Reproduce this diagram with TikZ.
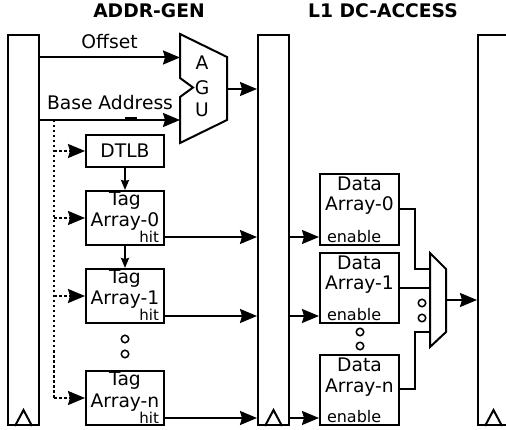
\documentclass[tikz,border=0pt]{standalone}
\usepackage{fontspec}
\setmainfont{DejaVu Sans}
\usetikzlibrary{arrows.meta}
\begin{document}
\begin{tikzpicture}[x=1pt,y=-1pt,line width=2pt,
  pipereg/.style={draw,rectangle,minimum width=31pt,minimum height=390pt,inner sep=0pt},
  unitbox/.style={draw,rectangle,inner sep=0pt,minimum width=78pt},
  databox/.style={draw,rectangle,inner sep=0pt,minimum width=79pt,minimum height=70pt},
  txt/.style={inner sep=0pt,anchor=base,font=\fontsize{18.7}{19}\selectfont},
  small/.style={inner sep=0pt,font=\fontsize{15}{16}\selectfont},
  title/.style={inner sep=0pt,anchor=base,font=\fontsize{18.7}{19}\selectfont\bfseries},
  arr/.style={-{Stealth[length=17pt,width=14pt,inset=2pt]}},
  tiny/.style={-{Stealth[length=10pt,width=8pt,inset=1pt]}},
  tap/.style={dash pattern=on 2.5pt off 2.5pt},
  clk/.style={line join=miter},
  dot/.style={draw,circle,inner sep=0pt,minimum size=7.5pt,line width=1.5pt}]
\useasboundingbox (0,0) rectangle (506,430);

% titles
\node[title] (t1) at (149,17.5) {ADDR-GEN};
\node[title] (t2) at (383,17.5) {L1 DC-ACCESS};

% pipeline registers
\node[pipereg] (r1) at (23.5,230) {};
\node[pipereg] (r2) at (273.5,230) {};
\node[pipereg] (r3) at (493.5,230) {};
\foreach \r in {r1,r2,r3}
  \draw[clk] (\r.south) ++(-8.5,0) -- ++(8.5,-16) -- ++(8.5,16);

% address generation unit
\draw[line join=miter] (180,34) -- (227,57) -- (227,120) -- (180,143) -- (180,97)
  -- (193,87.5) -- (180,78) -- cycle;
\coordinate (aguin1) at (180,57.5);
\coordinate (aguin2) at (180,120);
\coordinate (aguout) at (227,89);
\node[txt] (la) at (202,70) {A};
\node[txt] (lg) at (202,94.5) {G};
\node[txt] (lu) at (202,116.5) {U};

\draw[arr] (r1.east |- aguin1) -- (aguin1);
\draw[arr] (r1.east |- aguin2) -- (aguin2);
\draw[arr] (aguout) -- (r2.west |- aguout);
\node[txt] (loff) at (109.5,49) {Offset};
\node[txt] (lbase) at (110,110) {Base Address};
\coordinate (m1) at (125,119);
\coordinate (m2) at (137,119);
\draw[line width=3pt] (m1) -- (m2);

% TLB and tag arrays
\node[unitbox,minimum height=32pt] (dtlb) at (125,151) {};
\node[unitbox,minimum height=54pt] (tag0) at (125,218) {};
\node[unitbox,minimum height=54pt] (tag1) at (125,296) {};
\node[unitbox,minimum height=54pt] (tagn) at (125,398) {};
\node[txt] (ldtlb) at (125,157.5) {DTLB};
\foreach \b/\k in {tag0/0,tag1/1,tagn/n}{
  \node[txt] (\b-a) at ([yshift=-15.5pt]\b.north) {Tag};
  \node[txt] (\b-b) at ([yshift=-37pt]\b.north) {Array-\k};
  \node[small,anchor=base east] (\b-h) at ([xshift=-5pt,yshift=3pt]\b.south east) {hit};
}
\draw[tiny] (dtlb) -- (tag0);
\draw[tiny] (tag0) -- (tag1);
\node[dot] (td1) at (125,339) {};
\node[dot] (td2) at (125,354) {};

% dotted address taps
\coordinate (tap0) at (54,120);
\coordinate (tapn) at (54,398);
\draw[tap] (tap0) -- (tapn);
\foreach \b in {dtlb,tag0,tag1,tagn}
  \draw[tap,arr] (tap0 |- \b.west) -- (\b.west);

% hit signals
\draw[arr] (tag0.east |- 0,237) -- (r2.west |- 0,237);
\draw[arr] (tag1.east |- 0,316) -- (r2.west |- 0,316);
\draw[arr] (tagn.east |- 0,418) -- (r2.west |- 0,418);

% data arrays
\node[databox,minimum height=71pt] (d0) at (359.5,209.5) {};
\node[databox] (d1) at (359.5,288) {};
\node[databox] (dn) at (359.5,390) {};
\foreach \b/\k in {d0/0,d1/1,dn/n}{
  \node[txt] (\b-a) at ([yshift=-17.5pt]\b.north) {Data};
  \node[txt] (\b-b) at ([yshift=-38pt]\b.north) {Array-\k};
}
\node[small,anchor=base west,font=\fontsize{16}{17}\selectfont] (d0-e) at (326,243) {enable};
\node[small,anchor=base west,font=\fontsize{16}{17}\selectfont] (d1-e) at (326,320) {enable};
\node[small,anchor=base west,font=\fontsize{16}{17}\selectfont] (dn-e) at (326,422) {enable};
\draw[arr] (r2.east |- 0,237) -- (d0.west |- 0,237);
\draw[arr] (r2.east |- 0,316) -- (d1.west |- 0,316);
\draw[arr] (r2.east |- 0,418) -- (dn.west |- 0,418);
\node[dot] (dd1) at (360,332) {};
\node[dot] (dd2) at (360,346) {};

% way-select multiplexer
\draw[line join=miter] (430,253) -- (446,269) -- (446,332) -- (430,347) -- cycle;
\coordinate (mx0) at (430,269);
\coordinate (mx1) at (430,288);
\coordinate (mxn) at (430,332);
\coordinate (mxo) at (446,300);
\draw (d0.east) -- ++(15,0) |- (mx0);
\draw (d1.east) -- (mx1);
\draw (dn.east |- 0,389) -- ++(15,0) |- (mxn);
\node[dot] (md1) at (422,303) {};
\node[dot] (md2) at (422,318) {};
\draw[arr] (mxo) -- (r3.west |- mxo);
\end{tikzpicture}
\end{document}
